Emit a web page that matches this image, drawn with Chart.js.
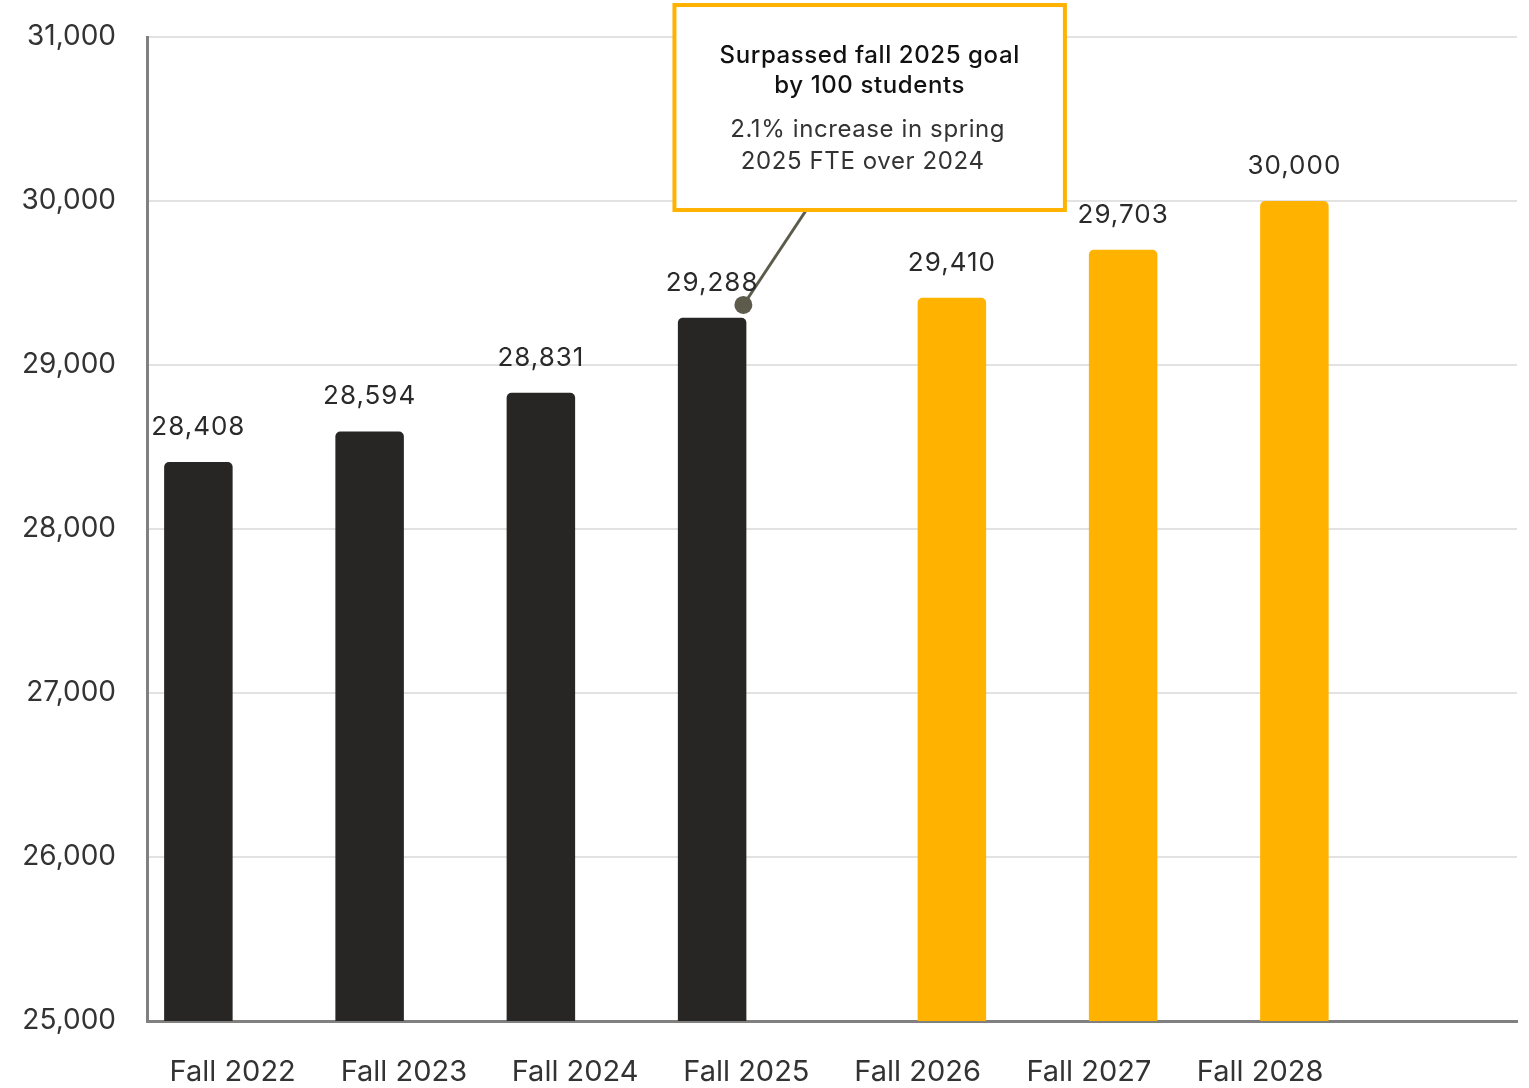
<!DOCTYPE html>
<html>
<head>
<meta charset="utf-8">
<script src="https://cdn.jsdelivr.net/npm/chart.js@4/dist/chart.umd.min.js"></script>
<style>
  html, body { margin: 0; padding: 0; background: #fff; }
  #wrap { width: 1529px; height: 1088px; }
</style>
</head>
<body>
<div id="wrap"><canvas id="c" width="1529" height="1088"></canvas></div>
<script>
const categories = ["Fall 2022", "Fall 2023", "Fall 2024", "Fall 2025", "Fall 2026", "Fall 2027", "Fall 2028", ""];
const actualValues = [28408, 28594, 28831, 29288, null, null, null, null];
const goalValues = [null, null, null, null, 29410, 29703, 30000, null];
const yTicks = [25000, 26000, 27000, 28000, 29000, 30000, 31000];
const calloutTitle = ["Surpassed fall 2025 goal", "by 100 students"];
const calloutBody = ["2.1% increase in spring", "2025 FTE over 2024"];
const calloutPointValue = 29366;

const FONT = "Inter, 'Noto Sans', sans-serif";
const fmt = v => v.toLocaleString('en-US');

const labelPlugin = {
  id: 'barLabels',
  afterDatasetsDraw(chart) {
    const ctx = chart.ctx;
    ctx.save();
    ctx.font = "400 26px " + FONT;
    ctx.letterSpacing = "1px";
    ctx.fillStyle = "#2a2a2a";
    ctx.textAlign = "center";
    ctx.textBaseline = "middle";
    chart.data.datasets.forEach((ds, di) => {
      const meta = chart.getDatasetMeta(di);
      meta.data.forEach((bar, i) => {
        const v = ds.data[i];
        if (v == null) return;
        ctx.fillText(fmt(v), bar.x, bar.y - 35);
      });
    });
    ctx.restore();
  }
};

const calloutPlugin = {
  id: 'callout',
  afterDatasetsDraw(chart) {
    const ctx = chart.ctx;
    const xs = chart.scales.x, ys = chart.scales.y;
    const bar = chart.getDatasetMeta(0).data[3];
    const px = bar.x + bar.width / 2 - 3;
    const py = ys.getPixelForValue(calloutPointValue);
    const left = xs.getPixelForValue(2.58), right = xs.getPixelForValue(4.86);
    const top = ys.getPixelForValue(31195), bottom = ys.getPixelForValue(29945);
    const cx = (left + right) / 2;
    ctx.save();
    ctx.strokeStyle = "#5c5b4c";
    ctx.lineWidth = 3;
    ctx.beginPath();
    ctx.moveTo(px, py);
    ctx.lineTo(xs.getPixelForValue(3.35), bottom);
    ctx.stroke();
    ctx.fillStyle = "#5c5b4c";
    ctx.beginPath();
    ctx.arc(px, py, 9, 0, Math.PI * 2);
    ctx.fill();
    ctx.fillStyle = "#ffffff";
    ctx.fillRect(left, top, right - left, bottom - top);
    ctx.strokeStyle = "#ffb300";
    ctx.lineWidth = 4;
    ctx.strokeRect(left, top, right - left, bottom - top);
    ctx.textAlign = "center";
    ctx.textBaseline = "middle";
    ctx.letterSpacing = "0.6px";
    ctx.font = "500 24px " + FONT;
    ctx.fillStyle = "#111111";
    ctx.fillText(calloutTitle[0], cx, top + 51);
    ctx.fillText(calloutTitle[1], cx, top + 81);
    ctx.font = "400 24px " + FONT;
    ctx.fillStyle = "#333333";
    ctx.fillText(calloutBody[0], cx - 2, top + 125);
    ctx.fillText(calloutBody[1], cx - 7, top + 157);
    ctx.restore();
  }
};

new Chart(document.getElementById('c'), {
  type: 'bar',
  data: {
    labels: categories,
    datasets: [
      { label: 'Actual', data: actualValues, backgroundColor: '#282624', borderRadius: 5, borderSkipped: 'bottom', categoryPercentage: 0.8, barPercentage: 1.0 },
      { label: 'Goal', data: goalValues, backgroundColor: '#ffb200', borderRadius: 5, borderSkipped: 'bottom', categoryPercentage: 0.8, barPercentage: 1.0 }
    ]
  },
  options: {
    responsive: false,
    animation: false,
    devicePixelRatio: 1,
    layout: { padding: { top: 37, right: 12, left: 0, bottom: 0 } },
    plugins: { legend: { display: false }, tooltip: { enabled: false } },
    scales: {
      x: {
        grid: { display: false, drawTicks: false },
        border: { color: '#808080', width: 3 },
        ticks: { font: { family: FONT, size: 29 }, color: '#333333', padding: 34, maxRotation: 0, autoSkip: false },
        afterFit(s) { s.height = 67; s.paddingLeft = 0; s.paddingRight = 0; }
      },
      y: {
        min: 25000, max: 31000,
        afterBuildTicks(s) { s.ticks = yTicks.map(v => ({ value: v })); },
        grid: { color: '#e2e2e2', lineWidth: 2, drawTicks: false },
        border: { color: '#808080', width: 3 },
        ticks: { font: { family: FONT, size: 28 }, color: '#333333', padding: 31, callback: v => fmt(v) },
        afterFit(s) { s.width = 147; s.paddingTop = 0; s.paddingBottom = 0; }
      }
    }
  },
  plugins: [calloutPlugin, labelPlugin]
});
</script>
</body>
</html>
